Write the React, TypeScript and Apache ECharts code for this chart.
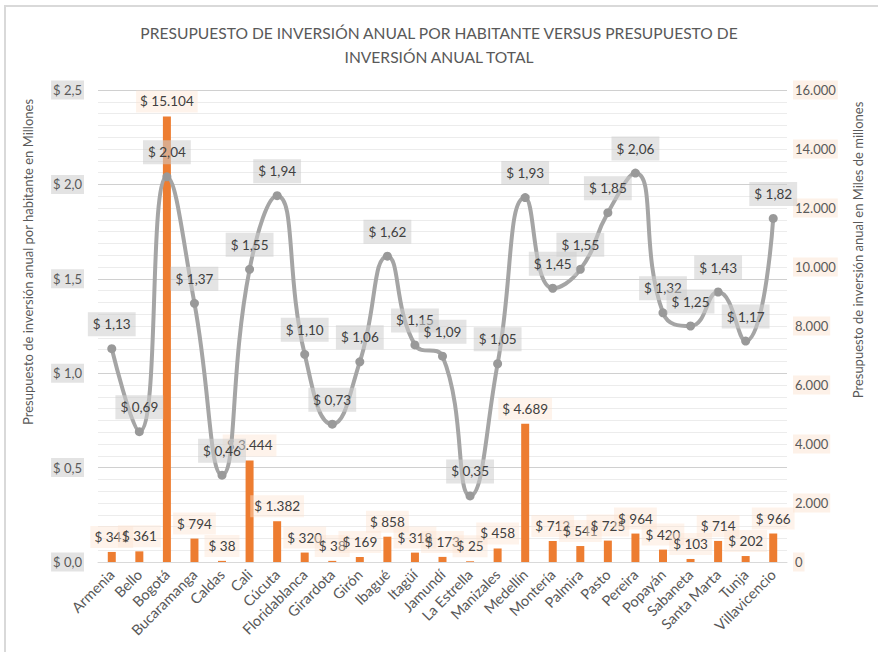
import React, { useEffect, useRef } from "react";
import * as echarts from "echarts";

const cities = [
  "Armenia", "Bello", "Bogotá", "Bucaramanga", "Caldas", "Cali", "Cúcuta",
  "Floridablanca", "Girardota", "Girón", "Ibagué", "Itagüí", "Jamundí",
  "La Estrella", "Manizales", "Medellín", "Montería", "Palmira", "Pasto",
  "Pereira", "Popayán", "Sabaneta", "Santa Marta", "Tunja", "Villavicencio",
];

// Presupuesto anual total (miles de millones) – barras, eje derecho
const totalBudget = [
  341, 361, 15104, 794, 38, 3444, 1382, 320, 38, 169, 858, 318, 173, 25, 458,
  4689, 712, 541, 725, 964, 420, 103, 714, 202, 966,
];

// Presupuesto por habitante (millones) – línea, eje izquierdo
const perCapita = [
  1.13, 0.69, 2.04, 1.37, 0.46, 1.55, 1.94, 1.1, 0.73, 1.06, 1.62, 1.15, 1.09,
  0.35, 1.05, 1.93, 1.45, 1.55, 1.85, 2.06, 1.32, 1.25, 1.43, 1.17, 1.82,
];

const leftTicks = { min: 0, max: 2.5, interval: 0.5 };
const rightTicks = { min: 0, max: 16000, interval: 2000 };

const titleText =
  "PRESUPUESTO DE INVERSIÓN ANUAL POR HABITANTE VERSUS PRESUPUESTO DE\nINVERSIÓN ANUAL TOTAL";
const leftAxisName = "Presupuesto de inversión anual por habitante en Millones";
const rightAxisName = "Presupuesto de inversión anual en Miles de millones";

const FONT = "Lato, 'Noto Sans', sans-serif";
const TXT = "#595959";

const thousands = (v: number) =>
  Math.round(v)
    .toString()
    .replace(/\B(?=(\d{3})+(?!\d))/g, ".");

export default function App() {
  const ref = useRef<HTMLDivElement>(null);

  useEffect(() => {
    if (!ref.current) return;
    const chart = echarts.init(ref.current, null, { renderer: "svg" });
    chart.setOption({
      animation: false,
      backgroundColor: "#ffffff",
      textStyle: { fontFamily: FONT },
      title: {
        text: titleText,
        left: "center",
        top: 16,
        textStyle: {
          fontFamily: FONT,
          fontSize: 15.6,
          fontWeight: "normal",
          color: TXT,
          lineHeight: 24,
        },
      },
      graphic: [
        {
          type: "polyline",
          shape: { points: [[5, 700], [5, 6], [900, 6]] },
          style: { stroke: "#d9d9d9", lineWidth: 2, fill: "none" },
          silent: true,
        },
        {
          type: "text",
          x: 28,
          y: 262,
          rotation: Math.PI / 2,
          style: {
            text: leftAxisName,
            fontFamily: FONT,
            fontSize: 13,
            fill: TXT,
            align: "center",
            verticalAlign: "middle",
          },
        },
        {
          type: "text",
          x: 858,
          y: 250,
          rotation: Math.PI / 2,
          style: {
            text: rightAxisName,
            fontFamily: FONT,
            fontSize: 13,
            fill: TXT,
            align: "center",
            verticalAlign: "middle",
          },
        },
      ],
      grid: { left: 98, right: 91, top: 90, bottom: 90, containLabel: false },
      xAxis: {
        type: "category",
        data: cities,
        axisLine: { lineStyle: { color: "#d9d9d9", width: 1 } },
        axisTick: { show: false },
        axisLabel: {
          rotate: 45,
          interval: 0,
          color: TXT,
          fontFamily: FONT,
          fontSize: 14.5,
          margin: 10,
        },
      },
      yAxis: [
        {
          type: "value",
          position: "left",
          min: leftTicks.min,
          max: leftTicks.max,
          interval: leftTicks.interval,
          axisLine: { show: false },
          axisTick: { show: false },
          splitLine: { show: true, lineStyle: { color: "#d0d0d0", width: 1 } },
          minorTick: { show: false, splitNumber: 8 },
          minorSplitLine: { show: true, lineStyle: { color: "#ececec", width: 1 } },
          axisLabel: {
            color: TXT,
            fontFamily: FONT,
            fontSize: 13,
            margin: 14,
            backgroundColor: "#e3e3e3",
            padding: [3, 2],
            formatter: (v: number) => "$ " + v.toFixed(1).replace(".", ","),
          },
        },
        {
          type: "value",
          position: "right",
          min: rightTicks.min,
          max: rightTicks.max,
          interval: rightTicks.interval,
          axisLine: { show: false },
          axisTick: { show: false },
          splitLine: { show: false },
          axisLabel: {
            color: TXT,
            fontFamily: FONT,
            fontSize: 13,
            margin: 6,
            backgroundColor: "#fdf1e8",
            padding: [3, 2],
            formatter: (v: number) => thousands(v),
          },
        },
      ],
      series: [
        {
          type: "bar",
          name: "Total",
          yAxisIndex: 1,
          data: totalBudget,
          barWidth: 8,
          itemStyle: { color: "#ed7d31" },
          z: 2,
          label: {
            show: true,
            position: "top",
            distance: 4,
            color: "#404040",
            fontFamily: FONT,
            fontSize: 13.5,
            backgroundColor: "rgba(252,228,210,0.45)",
            padding: [4, 4],
            formatter: (p: any) => "$ " + thousands(p.value),
          },
        },
        {
          type: "line",
          name: "Por habitante",
          yAxisIndex: 0,
          data: perCapita,
          smooth: 0.5,
          symbol: "circle",
          symbolSize: 9,
          lineStyle: { color: "#a5a5a5", width: 4 },
          itemStyle: { color: "#999999" },
          z: 3,
          label: {
            show: true,
            position: "top",
            distance: 8,
            color: "#404040",
            fontFamily: FONT,
            fontSize: 13.5,
            backgroundColor: "rgba(205,205,205,0.55)",
            padding: [5, 5],
            formatter: (p: any) => "$ " + Number(p.value).toFixed(2).replace(".", ","),
          },
        },
      ],
    });
    return () => chart.dispose();
  }, []);

  return (
    <div
      ref={ref}
      style={{ position: "fixed", left: 0, top: 0, width: 878, height: 652 }}
    />
  );
}
